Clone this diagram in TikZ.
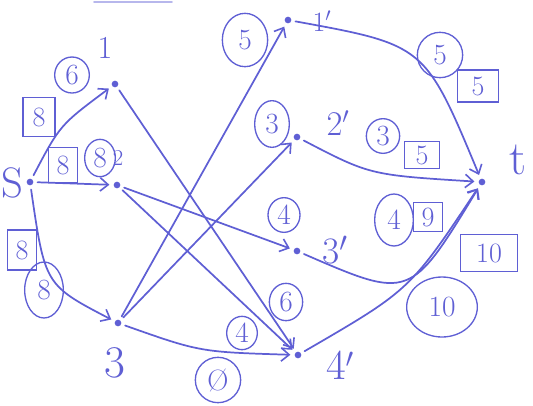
\documentclass[tikz,border=0pt]{standalone}
\usetikzlibrary{arrows.meta,shapes.geometric}
\definecolor{ink}{RGB}{95,95,212}
\begin{document}
\begin{tikzpicture}[x=0.75pt,y=-0.75pt,color=ink,
  dot/.style={circle,fill=ink,draw=none,inner sep=0pt,minimum size=5pt},
  edge/.style={draw=ink,line width=1.3pt,line cap=round,shorten >=3pt,shorten <=3pt,
    -{Straight Barb[length=6pt,width=10pt,line width=1.2pt]}},
  flowc/.style={draw=ink,line width=1pt,ellipse,inner sep=0pt,text=ink,
    font=\fontsize{22}{24}\selectfont},
  capb/.style={draw=ink,line width=1pt,rectangle,inner sep=0pt,text=ink,
    font=\fontsize{21}{23}\selectfont},
  vlab/.style={text=ink,inner sep=0pt}]
\useasboundingbox (0,0) rectangle (533,405);
% faint stroke at top
\draw[ink!45,line width=1.4pt,line cap=round] (94,2) -- (172,2);

% vertices
\node[dot] (s)  at (30,182) {};
\node[dot] (n1) at (115,84) {};
\node[dot] (n2) at (117,185) {};
\node[dot] (n3) at (118,323) {};
\node[dot] (m1) at (288,20) {};
\node[dot] (m2) at (297,137) {};
\node[dot] (m3) at (297,251) {};
\node[dot] (m4) at (298,355) {};
\node[dot] (t)  at (482,182) {};

% vertex labels
\node[vlab,font=\fontsize{32}{34}\selectfont] (ls)  at (12,183) {S};
\node[vlab,font=\fontsize{24}{26}\selectfont] (l1)  at (105,48) {1};
\node[vlab,font=\fontsize{17}{18}\selectfont] (l2)  at (118,158) {2};
\node[vlab,font=\fontsize{34}{36}\selectfont] (l3)  at (115,363) {3};
\node[vlab,font=\fontsize{21}{23}\selectfont] (lm1) at (322,21) {1$'$};
\node[vlab,font=\fontsize{26}{28}\selectfont] (lm2) at (338,123) {2$'$};
\node[vlab,font=\fontsize{28}{30}\selectfont] (lm3) at (335,250) {3$'$};
\node[vlab,font=\fontsize{32}{34}\selectfont] (lm4) at (340,365) {4$'$};
\node[vlab,font=\fontsize{36}{38}\selectfont] (lt)  at (518,160) {t};

% edges
\draw[edge] (s) .. controls (60,125) .. (n1);
\draw[edge] (s) -- (n2);
\draw[edge] (s) .. controls (45,285) .. (n3);
\draw[edge] (n1) -- (m4);
\draw[edge] (n2) -- (m3);
\draw[edge] (n2) -- (m4);
\draw[edge] (n3) -- (m1);
\draw[edge] (n3) -- (m2);
\draw[edge] (n3) .. controls (200,352) .. (m4);
\draw[edge] (m1) .. controls (425,45) .. (t);
\draw[edge] (m2) .. controls (370,175) .. (t);
\draw[edge] (m3) .. controls (410,300) .. (t);
\draw[edge] (m4) .. controls (410,290) .. (t);

% flows (circled)
\node[flowc,minimum width=26pt,minimum height=27pt] (f1)  at (72,75) {6};
\node[flowc,minimum width=23pt,minimum height=28pt] (f2)  at (100,158) {8};
\node[flowc,minimum width=29pt,minimum height=42pt] (f3)  at (44,290) {8};
\node[flowc,minimum width=34pt,minimum height=40pt] (f4)  at (245,40) {5};
\node[flowc,minimum width=26pt,minimum height=35pt] (f5)  at (272,124) {3};
\node[flowc,minimum width=24pt,minimum height=26pt] (f6)  at (284,215) {4};
\node[flowc,minimum width=25pt,minimum height=28pt] (f7)  at (286,302) {6};
\node[flowc,minimum width=23pt,minimum height=25pt] (f8)  at (242,333) {4};
\node[flowc,minimum width=34pt,minimum height=34pt] (f9)  at (218,380) {\O};
\node[flowc,minimum width=34pt,minimum height=34pt] (f10) at (440,55) {5};
\node[flowc,minimum width=25pt,minimum height=26pt] (f11) at (383,136) {3};
\node[flowc,minimum width=29pt,minimum height=39pt] (f12) at (394,220) {4};
\node[flowc,minimum width=53pt,minimum height=45pt] (f13) at (442,307) {10};

% capacities (boxed)
\node[capb,minimum width=24pt,minimum height=29pt] (c1) at (39,117) {8};
\node[capb,minimum width=22pt,minimum height=26pt] (c2) at (63,165) {8};
\node[capb,minimum width=22pt,minimum height=30pt] (c3) at (22,250) {8};
\node[capb,minimum width=31pt,minimum height=24pt] (c4) at (478,86) {5};
\node[capb,minimum width=26pt,minimum height=20pt] (c5) at (422,155) {5};
\node[capb,minimum width=22pt,minimum height=22pt] (c6) at (428,217) {9};
\node[capb,minimum width=43pt,minimum height=28pt] (c7) at (489,253) {10};
\end{tikzpicture}
\end{document}
